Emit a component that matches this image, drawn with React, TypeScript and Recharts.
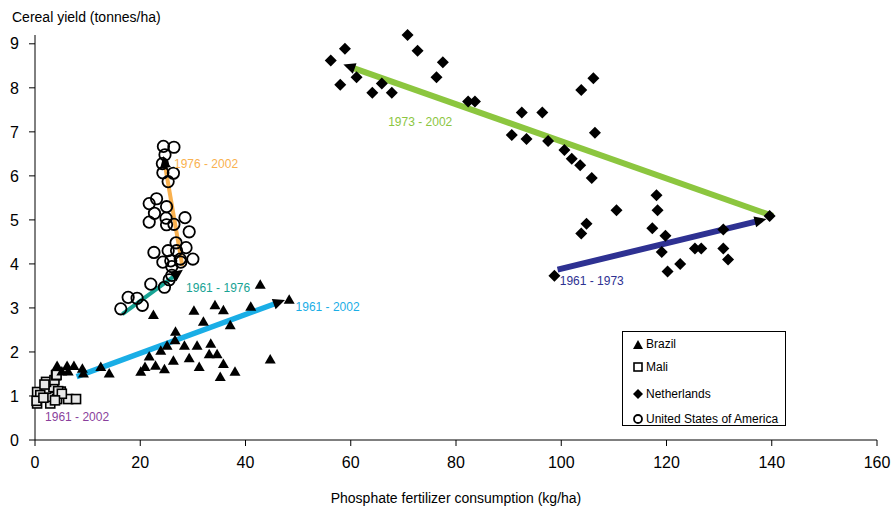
import React from 'react';
import { ScatterChart, Scatter, XAxis, YAxis, ReferenceLine, ReferenceDot } from 'recharts';

// [phosphate kg/ha, cereal yield t/ha]
const brazil: number[][] = [
  [4.2, 1.69], [6.1, 1.69], [7.4, 1.69], [5.1, 1.57], [6.3, 1.57], [9.0, 1.63], [9.2, 1.52],
  [12.5, 1.67], [14.1, 1.52], [20.1, 1.56], [20.9, 1.67], [21.7, 1.91], [22.9, 1.7], [24.6, 1.62],
  [23.9, 2.04], [25.1, 2.15], [26.3, 1.81], [26.6, 2.28], [26.7, 2.47], [28.4, 2.15], [29.3, 1.87],
  [30.8, 2.15], [31.2, 1.67], [33.4, 2.2], [33.1, 1.96], [34.6, 1.96], [35.8, 1.74], [35.2, 1.44],
  [38.0, 1.56], [22.5, 2.85], [30.2, 2.95], [32.0, 2.7], [34.2, 3.07], [35.8, 2.96], [37.1, 2.62],
  [41.0, 3.04], [42.8, 3.54], [44.7, 1.84], [48.3, 3.2],
];

const mali: number[][] = [
  [0.4, 0.83], [1.5, 0.98], [2.9, 0.83], [2.9, 0.98], [4.2, 0.93], [6.3, 0.93], [7.8, 0.93],
  [0.4, 1.09], [2.1, 1.16], [3.5, 1.2], [4.9, 1.1], [2.1, 1.32], [3.7, 1.36], [4.0, 1.47],
  [1.0, 1.02], [4.4, 1.11], [5.1, 1.05], [1.8, 1.26], [4.1, 1.48], [0.3, 0.89], [1.6, 0.96], [3.8, 0.9],
];

const netherlands: number[][] = [
  [98.7, 3.73], [56.2, 8.62], [58.9, 8.89], [58.0, 8.07], [61.1, 8.24], [64.1, 7.89], [65.9, 8.1],
  [67.8, 7.89], [70.8, 9.2], [72.7, 8.84], [76.3, 8.24], [77.5, 8.58], [82.3, 7.69], [83.6, 7.69],
  [90.6, 6.93], [92.5, 7.44], [93.4, 6.84], [96.4, 7.44], [97.5, 6.79], [100.6, 6.59], [102.0, 6.39],
  [103.6, 6.24], [103.8, 7.95], [106.1, 8.22], [106.4, 6.98], [105.8, 5.95], [104.8, 4.91],
  [103.8, 4.69], [110.5, 5.22], [118.1, 5.56], [118.3, 5.22], [117.3, 4.81], [119.8, 4.64],
  [119.1, 4.27], [120.2, 3.83], [122.6, 4.0], [125.4, 4.35], [126.6, 4.35], [130.8, 4.78],
  [130.8, 4.35], [131.7, 4.1], [139.6, 5.09],
];

const usa: number[][] = [
  [24.4, 6.67], [26.4, 6.65], [24.7, 6.48], [24.2, 6.28], [24.3, 6.07], [26.3, 6.06], [25.3, 5.87],
  [23.1, 5.48], [21.7, 5.37], [22.7, 5.15], [25.0, 5.3], [21.7, 4.95], [24.9, 5.04], [28.5, 5.05],
  [25.0, 4.89], [26.4, 4.9], [29.3, 4.73], [26.8, 4.48], [28.7, 4.37], [22.6, 4.26], [25.3, 4.3],
  [26.9, 4.3], [30.0, 4.11], [24.3, 4.04], [25.8, 4.07], [27.6, 4.11], [26.0, 3.94], [27.7, 4.04],
  [26.0, 3.74], [25.5, 3.64], [24.6, 3.47], [22.0, 3.54], [19.4, 3.22], [17.7, 3.24], [20.4, 3.06],
  [16.3, 2.98],
];

// trend arrows: from -> to (arrowhead at "to")
const trends = [
  { from: [7.9, 1.44], to: [47.5, 3.18], color: '#1aaee6', width: 5.5 },
  { from: [16.6, 2.86], to: [28.1, 3.87], color: '#17a394', width: 4 },
  { from: [28.0, 3.95], to: [24.4, 6.45], color: '#f9b14f', width: 4 },
  { from: [140.2, 5.09], to: [58.6, 8.53], color: '#8cc63f', width: 6 },
  { from: [99.3, 3.87], to: [139.0, 5.02], color: '#2e3192', width: 6 },
];

const periodLabels = [
  { text: '1961 - 2002', at: [8.0, 0.53], color: '#8a3f9c' },
  { text: '1961 - 2002', at: [55.6, 3.02], color: '#1aaee6' },
  { text: '1961 - 1976', at: [34.8, 3.47], color: '#17a394' },
  { text: '1976 - 2002', at: [32.5, 6.27], color: '#f9b14f' },
  { text: '1973 - 2002', at: [73.2, 7.22], color: '#8cc63f' },
  { text: '1961 - 1973', at: [105.8, 3.62], color: '#2e3192' },
];

const xTicks = [0, 20, 40, 60, 80, 100, 120, 140, 160];
const yTicks = [0, 1, 2, 3, 4, 5, 6, 7, 8, 9];

const toPts = (arr: number[][]) => arr.map(([x, y]) => ({ x, y }));

const Triangle = ({ cx, cy }: any) => (
  <polygon points={`${cx},${cy - 5} ${cx - 5.5},${cy + 4.5} ${cx + 5.5},${cy + 4.5}`} fill="#000" />
);
const Square = ({ cx, cy }: any) => (
  <rect x={cx - 4.5} y={cy - 4.5} width={9} height={9} fill="#e8e8e8" stroke="#000" strokeWidth={1.6} />
);
const Diamond = ({ cx, cy }: any) => (
  <polygon points={`${cx},${cy - 6} ${cx + 6},${cy} ${cx},${cy + 6} ${cx - 6},${cy}`} fill="#000" />
);
const Circle = ({ cx, cy }: any) => (
  <circle cx={cx} cy={cy} r={5.7} fill="none" stroke="#000" strokeWidth={1.8} />
);

const arrowShape = (color: string, width: number) => (p: any) => {
  const { x1, y1, x2, y2 } = p;
  const a = Math.atan2(y2 - y1, x2 - x1);
  const L = 12;
  const H = 5.5;
  const bx = x2 - L * Math.cos(a);
  const by = y2 - L * Math.sin(a);
  const px = -Math.sin(a) * H;
  const py = Math.cos(a) * H;
  return (
    <g>
      <line x1={x1} y1={y1} x2={bx + 2 * Math.cos(a)} y2={by + 2 * Math.sin(a)} stroke={color} strokeWidth={width} />
      <polygon points={`${x2},${y2} ${bx + px},${by + py} ${bx - px},${by - py}`} fill="#000" />
    </g>
  );
};

const legendItems = [
  { name: 'Brazil', icon: <polygon points="5,1 10,10 0,10" fill="#000" />, top: 6 },
  { name: 'Mali', icon: <rect x={1} y={1} width={8} height={8} fill="#fff" stroke="#000" strokeWidth={1.6} />, top: 29 },
  { name: 'Netherlands', icon: <polygon points="5,0 10,5 5,10 0,5" fill="#000" />, top: 56 },
  { name: 'United States of America', icon: <circle cx={5} cy={5} r={4} fill="none" stroke="#000" strokeWidth={1.8} />, top: 81 },
];

const LegendBox = ({ font }: { font: string }) => (
  <div style={{ position: 'absolute', left: 622, top: 331, width: 164, height: 95, border: '1px solid #000', boxSizing: 'border-box', background: '#fff', fontFamily: font, fontSize: 12, color: '#000' }}>
    {legendItems.map((it) => (
      <div key={it.name} style={{ position: 'absolute', left: 10, top: it.top, display: 'flex', alignItems: 'center', whiteSpace: 'nowrap', lineHeight: '12px' }}>
        <svg width={10} height={10} style={{ marginRight: 3 }}>{it.icon}</svg>
        <span>{it.name}</span>
      </div>
    ))}
  </div>
);

export default function App() {
  const font = '"Liberation Sans", Arial, sans-serif';
  return (
    <div style={{ position: 'absolute', left: 0, top: 0, width: 893, height: 509, background: '#fff', fontFamily: font }}>
      <ScatterChart width={893} height={509} margin={{ top: 35, right: 16, bottom: 0, left: 0 }}>
        <XAxis
          type="number"
          dataKey="x"
          domain={[0, 160]}
          ticks={xTicks}
          height={69}
          tickSize={6}
          tickMargin={11}
          stroke="#000"
          tick={{ fill: '#000', fontSize: 16, fontFamily: font }}
          label={{ value: 'Phosphate fertilizer consumption (kg/ha)', position: 'insideBottom', offset: 6, fill: '#000', fontSize: 14, fontFamily: font }}
        />
        <YAxis
          type="number"
          dataKey="y"
          domain={[0, 9]}
          ticks={yTicks}
          width={35}
          tickSize={6}
          tickMargin={10}
          stroke="#000"
          tick={{ fill: '#000', fontSize: 16, fontFamily: font }}
          label={{
            content: () => (
              <text x={12} y={22} fill="#000" fontSize={14} fontFamily={font}>
                Cereal yield (tonnes/ha)
              </text>
            ),
          }}
        />
        <Scatter name="Mali" data={toPts(mali)} shape={Square} isAnimationActive={false} />
        <Scatter name="Brazil" data={toPts(brazil)} shape={Triangle} isAnimationActive={false} />
        <Scatter name="Netherlands" data={toPts(netherlands)} shape={Diamond} isAnimationActive={false} />
        <Scatter name="United States of America" data={toPts(usa)} shape={Circle} isAnimationActive={false} />
        {trends.map((t, i) => (
          <ReferenceLine
            key={i}
            segment={[{ x: t.from[0], y: t.from[1] }, { x: t.to[0], y: t.to[1] }]}
            shape={arrowShape(t.color, t.width)}
            ifOverflow="visible"
          />
        ))}
        {periodLabels.map((l, i) => (
          <ReferenceDot
            key={i}
            x={l.at[0]}
            y={l.at[1]}
            r={0}
            stroke="none"
            fill="none"
            label={{ value: l.text, position: 'center', fill: l.color, fontSize: 12, fontFamily: font }}
          />
        ))}
      </ScatterChart>
      <LegendBox font={font} />
    </div>
  );
}
